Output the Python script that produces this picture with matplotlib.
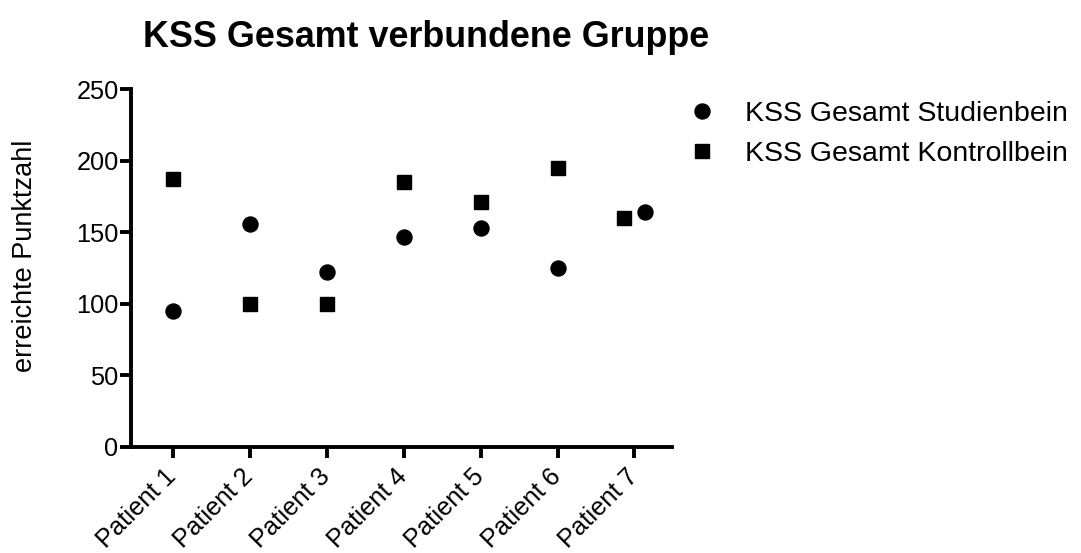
import numpy as np
import matplotlib

matplotlib.use("Agg")
import matplotlib.pyplot as plt
import matplotlib.transforms as mtransforms

plt.rcParams["font.family"] = ["Liberation Sans", "DejaVu Sans"]

# data
patients = ["Patient 1", "Patient 2", "Patient 3", "Patient 4",
            "Patient 5", "Patient 6", "Patient 7"]
studienbein = [95, 156, 122, 147, 153, 125, 164]
kontrollbein = [187, 100, 100, 185, 171, 195, 160]
y_ticks = [0, 50, 100, 150, 200, 250]

fig = plt.figure(figsize=(10.81, 5.53), dpi=100)
ax = fig.add_axes([0.1212, 0.1922, 0.5005, 0.6463])

x = np.arange(1, len(patients) + 1)
s = np.array(studienbein)
k = np.array(kontrollbein)
# nudge points sideways where the two series would overlap (like Prism does)
close = np.abs(s - k) < 10
dx = np.where(close, 0.14, 0.0)

ax.plot(x + dx, s, "o", color="black", markersize=10.8, label="KSS Gesamt Studienbein")
ax.plot(x - dx, k, "s", color="black", markersize=10.5, label="KSS Gesamt Kontrollbein")

ax.set_xlim(0.45, 7.49)
ax.set_ylim(0, 250)
ax.set_yticks(y_ticks)
ax.set_xticks(x)
ax.set_xticklabels(patients, rotation=45, ha="right", rotation_mode="anchor")

for side in ["top", "right"]:
    ax.spines[side].set_visible(False)
for side in ["left", "bottom"]:
    ax.spines[side].set_linewidth(2.8)
ax.tick_params(axis="both", width=2.8, length=8, labelsize=18.3, direction="out")
ax.tick_params(axis="y", pad=1)
ax.tick_params(axis="x", pad=8)

# shift the rotated labels so their ends sit just right of the ticks
shift = mtransforms.ScaledTranslation(-9 / 100, 5 / 100, fig.dpi_scale_trans)
for lbl in ax.get_xticklabels():
    lbl.set_transform(lbl.get_transform() + shift)

fig.text(143 / 1081, 1 - 47 / 553, "KSS Gesamt verbundene Gruppe",
         fontsize=25.8, fontweight="bold", ha="left", va="baseline")
fig.text(25 / 1081, 1 - 256 / 553, "erreichte Punktzahl", fontsize=19.5,
         rotation=90, ha="center", va="center")

fig.legend(loc="upper left", bbox_to_anchor=(688 / 1081, 1 - 101 / 553),
           frameon=False, fontsize=20.5, borderpad=0, handlelength=1.0,
           handletextpad=1.0, labelspacing=0.5, borderaxespad=0)

fig.savefig("out.png", dpi=100)
